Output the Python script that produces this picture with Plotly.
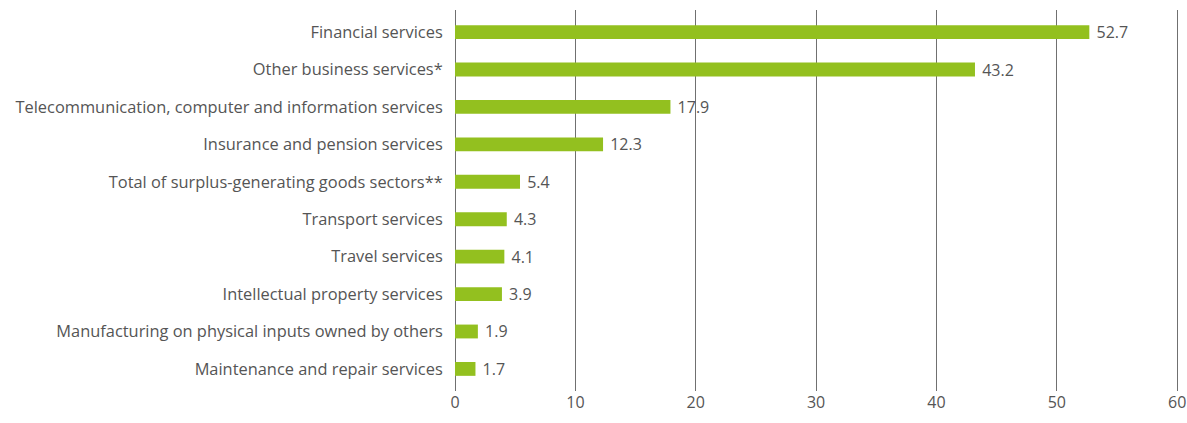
import plotly.graph_objects as go

categories = [
    "Financial services",
    "Other business services*",
    "Telecommunication, computer and information services",
    "Insurance and pension services",
    "Total of surplus-generating goods sectors**",
    "Transport services",
    "Travel services",
    "Intellectual property services",
    "Manufacturing on physical inputs owned by others",
    "Maintenance and repair services",
]
values = [52.7, 43.2, 17.9, 12.3, 5.4, 4.3, 4.1, 3.9, 1.9, 1.7]
x_ticks = [0, 10, 20, 30, 40, 50, 60]

font_family = "Open Sans"
text_color = "#555555"

fig = go.Figure(
    go.Bar(
        x=values,
        y=categories,
        orientation="h",
        marker=dict(color="#93c01f", line=dict(width=0)),
        texttemplate=" %{x:.1f}",
        textposition="outside",
        constraintext="none",
        textfont=dict(family=font_family, size=16, color=text_color),
        cliponaxis=False,
        width=0.37,
    )
)

fig.update_layout(
    width=1187,
    height=423,
    margin=dict(l=455, r=8, t=10, b=32, autoexpand=False),
    plot_bgcolor="white",
    paper_bgcolor="white",
    showlegend=False,
    font=dict(family=font_family, size=16, color=text_color),
)
fig.update_xaxes(
    range=[0, 60.15],
    tickvals=x_ticks,
    automargin=False,
    showgrid=True,
    gridcolor="#707070",
    gridwidth=1,
    zeroline=True,
    zerolinecolor="#707070",
    zerolinewidth=1,
    ticks="",
    tickfont=dict(family=font_family, size=16, color=text_color),
    showline=False,
)
fig.update_yaxes(
    categoryorder="array",
    categoryarray=categories[::-1],
    range=[-0.59, 9.59],
    automargin=False,
    showgrid=False,
    ticks="outside",
    ticklen=8,
    tickcolor="rgba(0,0,0,0)",
    tickfont=dict(family=font_family, size=16.4, color=text_color),
    showline=False,
)

fig.write_html("out.html")
